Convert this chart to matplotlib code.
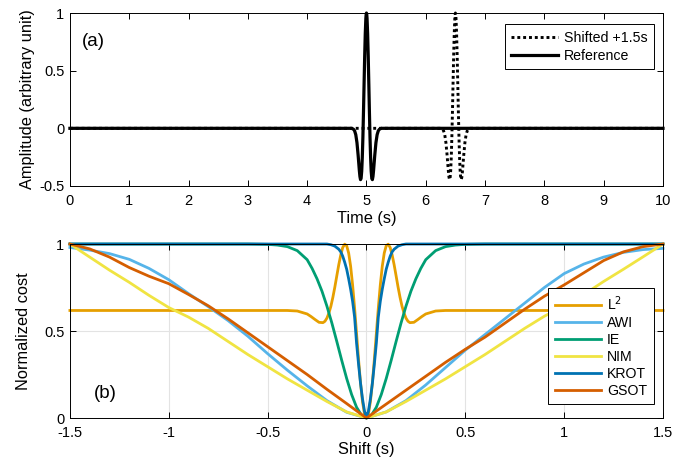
import numpy as np
import matplotlib
matplotlib.use("Agg")
import matplotlib.pyplot as plt

plt.rcParams["font.family"] = ["Liberation Sans", "DejaVu Sans"]
plt.rcParams["font.size"] = 10

# (a) Ricker wavelet (half, offsets from the peak)
wav_offset = [0, 0.005, 0.01, 0.02, 0.03, 0.04, 0.05, 0.06, 0.07, 0.08, 0.09,
              0.10, 0.11, 0.12, 0.14, 0.16, 0.18, 0.20, 0.22, 0.25]
wav_amp = [1.0, 0.988, 0.953, 0.820, 0.621, 0.384, 0.142, -0.078, -0.252, -0.372,
           -0.433, -0.445, -0.418, -0.365, -0.235, -0.124, -0.055, -0.021, -0.007, 0.0]
ref_center = 5.0
shift_center = 6.5
t_start, t_end = 0.0, 10.0

# (b) normalized cost vs shift
# symmetric curves, half given
l2_tau = [0, 0.01, 0.02, 0.03, 0.04, 0.05, 0.06, 0.07, 0.08, 0.09, 0.10, 0.11, 0.12,
          0.13, 0.14, 0.15, 0.16, 0.17, 0.18, 0.19, 0.20, 0.21, 0.22, 0.24, 0.26,
          0.28, 0.30, 0.35, 0.40, 1.5]
l2_cost = [0, 0.024, 0.094, 0.202, 0.337, 0.485, 0.632, 0.764, 0.872, 0.948, 0.990,
           0.999, 0.980, 0.937, 0.881, 0.817, 0.752, 0.693, 0.642, 0.603, 0.574,
           0.556, 0.548, 0.550, 0.566, 0.583, 0.598, 0.615, 0.618, 0.618]

krot_tau = [0, 0.01, 0.02, 0.03, 0.04, 0.05, 0.06, 0.07, 0.08, 0.09, 0.10, 0.11,
            0.12, 0.13, 0.14, 0.16, 0.18, 0.20, 1.5]
krot_cost = [0, 0.04, 0.11, 0.20, 0.31, 0.43, 0.58, 0.67, 0.74, 0.80, 0.855, 0.895,
             0.93, 0.955, 0.97, 0.988, 0.996, 1.0, 1.0]

ie_tau = [0, 0.025, 0.05, 0.075, 0.1, 0.125, 0.15, 0.175, 0.2, 0.225, 0.25, 0.275,
          0.3, 0.35, 0.4, 0.45, 0.5, 0.6, 1.5]
ie_cost = [0, 0.016, 0.062, 0.135, 0.227, 0.331, 0.44, 0.546, 0.643, 0.729, 0.80,
           0.86, 0.91, 0.962, 0.985, 0.994, 0.998, 1.0, 1.0]

# full curves on a 0.1 s grid from -1.5 to 1.5
shift = [-1.5, -1.4, -1.3, -1.2, -1.1, -1.0, -0.9, -0.8, -0.7, -0.6, -0.5, -0.4,
         -0.3, -0.2, -0.1, 0.0, 0.1, 0.2, 0.3, 0.4, 0.5, 0.6, 0.7, 0.8, 0.9, 1.0,
         1.1, 1.2, 1.3, 1.4, 1.5]
awi_cost = [0.98, 0.965, 0.945, 0.912, 0.86, 0.795, 0.715, 0.64, 0.56, 0.47, 0.37,
            0.275, 0.185, 0.10, 0.033, 0.0, 0.035, 0.10, 0.19, 0.29, 0.39, 0.48,
            0.57, 0.66, 0.75, 0.83, 0.885, 0.925, 0.952, 0.968, 0.975]
nim_cost = [1.0, 0.925, 0.85, 0.78, 0.705, 0.635, 0.58, 0.515, 0.44, 0.365, 0.295,
            0.225, 0.16, 0.095, 0.035, 0.0, 0.035, 0.095, 0.16, 0.225, 0.295, 0.365,
            0.44, 0.515, 0.585, 0.645, 0.71, 0.785, 0.855, 0.927, 1.0]
gsot_cost = [1.0, 0.972, 0.925, 0.865, 0.815, 0.772, 0.71, 0.645, 0.57, 0.49, 0.41,
             0.33, 0.25, 0.165, 0.083, 0.0, 0.08, 0.16, 0.24, 0.32, 0.395, 0.465,
             0.545, 0.625, 0.70, 0.765, 0.835, 0.905, 0.955, 0.985, 1.0]

labels = ["L$^2$", "AWI", "IE", "NIM", "KROT", "GSOT"]
colors = ["#E69F00", "#56B4E9", "#009E73", "#F0E442", "#0072B2", "#D55E00"]


def mirror(x, y):
    x = np.asarray(x)
    y = np.asarray(y)
    return np.concatenate([-x[:0:-1], x]), np.concatenate([y[:0:-1], y])


def style(ax):
    ax.tick_params(direction="in", top=True, right=True, length=4, width=0.7,
                   labelsize=10.5)
    ax.tick_params(axis="x", pad=6)
    ax.tick_params(axis="y", pad=4)
    for s in ax.spines.values():
        s.set_linewidth(0.7)


def boxed_legend(ax, anchor, spacing):
    leg = ax.legend(loc="upper right", bbox_to_anchor=anchor, fontsize=10.2,
                    fancybox=False, framealpha=1, borderpad=0.45, handlelength=3.3,
                    labelspacing=spacing, handletextpad=0.4, borderaxespad=0)
    leg.get_frame().set_edgecolor("k")
    leg.get_frame().set_linewidth(0.7)
    return leg


fig = plt.figure(figsize=(6.99, 4.68), dpi=100)

# ---- (a)
ax1 = fig.add_axes([0.1, 0.6026, 0.8485, 0.3696])
off, amp = mirror(wav_offset, wav_amp)
t_sh = np.concatenate([[t_start], shift_center + off, [t_end]])
t_ref = np.concatenate([[t_start], ref_center + off, [t_end]])
a_full = np.concatenate([[0], amp, [0]])
ax1.plot(t_sh, a_full, color="k", lw=2.1, ls=(0, (1, 1)), label="Shifted +1.5s",
         clip_on=False)
ax1.plot(t_ref, a_full, "-", color="k", lw=2.3, label="Reference", clip_on=False)
ax1.set_xlim(0, 10)
ax1.set_ylim(-0.5, 1)
ax1.set_xticks(range(0, 11))
ax1.set_yticks([-0.5, 0, 0.5, 1])
ax1.set_yticklabels(["-0.5", "0", "0.5", "1"])
ax1.set_xlabel("Time (s)", fontsize=11.8, labelpad=2)
ax1.set_ylabel("Amplitude (arbitrary unit)", fontsize=11.8, labelpad=3)
ax1.text(0.02, 0.835, "(a)", transform=ax1.transAxes, fontsize=13.5, va="center")
style(ax1)
boxed_legend(ax1, (0.984, 0.935), 0.3)

# ---- (b)
ax2 = fig.add_axes([0.1, 0.1068, 0.8485, 0.3718])
x, y = mirror(l2_tau, l2_cost)
ax2.plot(x, y, color=colors[0], lw=2.0, label=labels[0], clip_on=False)
ax2.plot(shift, awi_cost, color=colors[1], lw=2.0, label=labels[1], clip_on=False)
x, y = mirror(ie_tau, ie_cost)
ax2.plot(x, y, color=colors[2], lw=2.0, label=labels[2], clip_on=False)
ax2.plot(shift, nim_cost, color=colors[3], lw=2.0, label=labels[3], clip_on=False)
x, y = mirror(krot_tau, krot_cost)
ax2.plot(x, y, color=colors[4], lw=2.0, label=labels[4], clip_on=False)
ax2.plot(shift, gsot_cost, color=colors[5], lw=2.0, label=labels[5], clip_on=False)
ax2.set_xlim(-1.5, 1.5)
ax2.set_ylim(0, 1)
ax2.set_xticks([-1.5, -1, -0.5, 0, 0.5, 1, 1.5])
ax2.set_xticklabels(["-1.5", "-1", "-0.5", "0", "0.5", "1", "1.5"])
ax2.set_yticks([0, 0.5, 1])
ax2.set_yticklabels(["0", "0.5", "1"])
ax2.grid(True, color="#e3e3e3", lw=0.8)
ax2.set_axisbelow(True)
ax2.set_xlabel("Shift (s)", fontsize=11.8, labelpad=1)
ax2.set_ylabel("Normalized cost", fontsize=11.8, labelpad=9)
ax2.text(0.04, 0.14, "(b)", transform=ax2.transAxes, fontsize=13.5, va="center")
style(ax2)
boxed_legend(ax2, (0.984, 0.745), 0.2)

fig.savefig("out.png", dpi=100)
